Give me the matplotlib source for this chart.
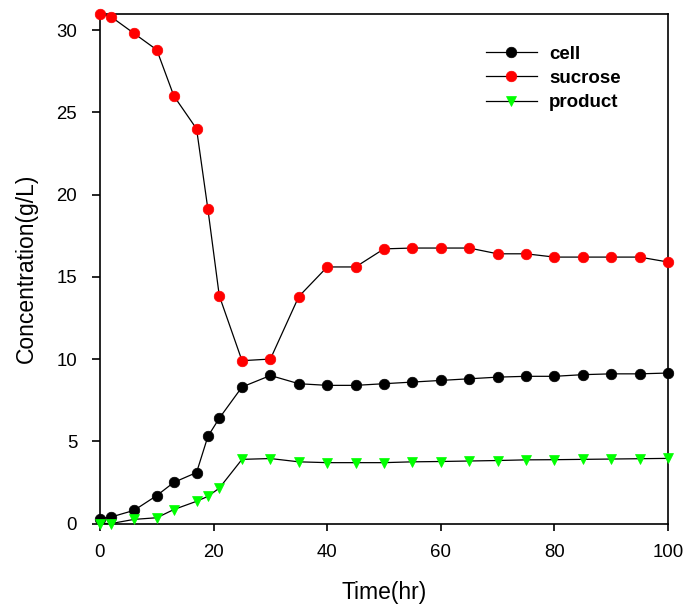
import matplotlib
matplotlib.use("Agg")
import matplotlib.pyplot as plt

time_hr = [0, 2, 6, 10, 13, 17, 19, 21, 25, 30, 35, 40, 45, 50, 55, 60, 65, 70, 75, 80, 85, 90, 95, 100]
cell = [0.3, 0.4, 0.8, 1.7, 2.5, 3.1, 5.3, 6.4, 8.3, 9.0, 8.5, 8.4, 8.4, 8.5, 8.6, 8.7, 8.8, 8.9, 8.95, 8.95, 9.05, 9.1, 9.1, 9.15]
sucrose = [31.0, 30.8, 29.8, 28.8, 26.0, 24.0, 19.1, 13.85, 9.9, 10.0, 13.8, 15.6, 15.6, 16.7, 16.75, 16.75, 16.75, 16.4, 16.4, 16.2, 16.2, 16.2, 16.2, 15.9]
product = [0.0, 0.0, 0.25, 0.35, 0.85, 1.35, 1.65, 2.15, 3.9, 3.95, 3.75, 3.7, 3.7, 3.7, 3.75, 3.77, 3.8, 3.83, 3.87, 3.88, 3.9, 3.92, 3.94, 3.96]

x_ticks = [0, 20, 40, 60, 80, 100]
y_ticks = [0, 5, 10, 15, 20, 25, 30]

plt.rcParams['font.family'] = ['Liberation Sans', 'DejaVu Sans']

W, H = 685, 605
fig = plt.figure(figsize=(W / 100, H / 100), dpi=100)
left, right, top, bottom = 100, 668, 13.7, 523.5
ax = fig.add_axes([left / W, 1 - bottom / H, (right - left) / W, (bottom - top) / H])

line_kw = dict(color='black', linewidth=0.9, clip_on=False, zorder=3)
ax.plot(time_hr, cell, marker='o', markersize=7.6, markerfacecolor='black',
        markeredgecolor='black', markeredgewidth=0.5, label='cell', **line_kw)
ax.plot(time_hr, sucrose, marker='o', markersize=7.6, markerfacecolor='#ff0000',
        markeredgecolor='#ff0000', markeredgewidth=0.5, label='sucrose', **line_kw)
ax.plot(time_hr, product, marker='v', markersize=7.6, markerfacecolor='#00ff00',
        markeredgecolor='#00ff00', markeredgewidth=0.5, label='product', **line_kw)

ax.set_xlim(0, 100)
ax.set_ylim(0, 31)
ax.set_xticks(x_ticks)
ax.set_yticks(y_ticks)
ax.set_xticklabels([str(v) for v in x_ticks])
ax.set_yticklabels([str(v) for v in y_ticks])

for sp in ax.spines.values():
    sp.set_linewidth(1.2)
    sp.set_color('black')

ax.tick_params(axis='x', direction='out', length=5, width=1.2, pad=9.5, labelsize=13.4)
ax.tick_params(axis='y', direction='out', length=6, width=1.2, pad=10.5, labelsize=13.4)

ax.set_xlabel('Time(hr)', fontsize=16.5)
ax.set_ylabel('Concentration(g/L)', fontsize=16.5)
ax.xaxis.set_label_coords(0.5, -0.112)
ax.yaxis.set_label_coords(-0.109, 0.5)

leg = ax.legend(loc='center left', bbox_to_anchor=(485.5 / W, 1 - 78.3 / H),
                bbox_transform=fig.transFigure, frameon=False,
                prop={'weight': 'bold', 'size': 13.5}, handlelength=2.75,
                handletextpad=0.65, labelspacing=0.38, borderpad=0, borderaxespad=0)

fig.savefig('out.png', dpi=100)
